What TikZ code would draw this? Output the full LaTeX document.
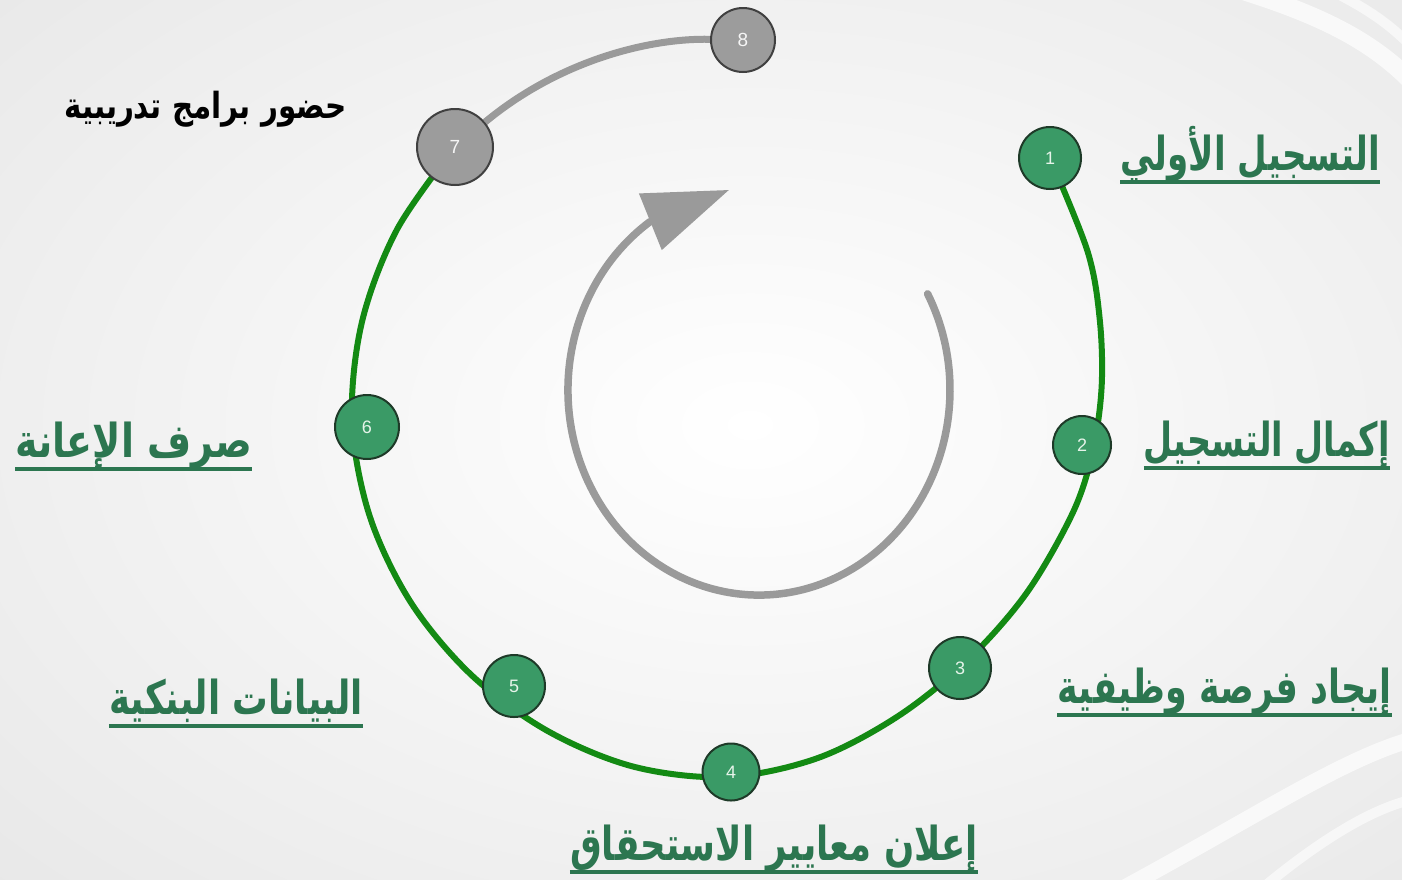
\documentclass[tikz,border=0pt]{standalone}
\usepackage{fontspec}
\setmainfont{Liberation Sans}
\newfontfamily\arabicfont[Script=Arabic]{DejaVu Sans}
\TeXXeTstate=1
\usetikzlibrary{arrows.meta,backgrounds}
\definecolor{bgc}{HTML}{E8E8E8}
\definecolor{lineg}{HTML}{138A13}
\definecolor{nodeg}{HTML}{3A9A66}
\definecolor{nodeb}{HTML}{1E3A28}
\definecolor{textg}{HTML}{2C7650}
\definecolor{grayl}{HTML}{9A9A9A}
\definecolor{grayn}{HTML}{9C9C9C}
\definecolor{numc}{HTML}{E6F4EA}
\newcommand{\arscale}[2]{\scalebox{#1}[1.17]{#2}}
\tikzset{
  gnode/.style={circle, fill=nodeg, draw=nodeb, line width=2pt, minimum size=#1, inner sep=0pt,
    text=numc, font=\fontsize{18}{18}\selectfont},
  hnode/.style={circle, fill=grayn, draw=black!75, line width=2pt, minimum size=#1, inner sep=0pt,
    text=white!92!gray, font=\fontsize{19}{19}\selectfont},
  lab/.style={inner sep=0pt, text=textg, font=\fontsize{40}{40}\selectfont\arabicfont\bfseries},
  blab/.style={inner sep=0pt, text=black, font=\fontsize{30}{30}\selectfont\arabicfont\bfseries},
  uline/.style={draw=textg, line width=3.5pt},
  greenline/.style={draw=lineg, line width=6pt},
  grayline/.style={draw=grayl, line width=7pt},
  cycarrow/.style={draw=grayl, fill=none, line width=7.5pt, line cap=round, -{Triangle[length=85pt,width=59pt]}}
}
\begin{document}
\begin{tikzpicture}[x=1pt,y=-1pt]
\useasboundingbox (0,0) rectangle (1402,879);
% step nodes
\node[gnode=62pt] (n1) at (1050,158) {1};
\node[gnode=58pt] (n2) at (1082,445) {2};
\node[gnode=62pt] (n3) at (960,668) {3};
\node[gnode=57pt] (n4) at (731,772) {4};
\node[gnode=62pt] (n5) at (514,686) {5};
\node[gnode=64pt] (n6) at (367,427) {6};
\node[hnode=76pt] (n7) at (455,147) {7};
\node[hnode=64pt] (n8) at (743,40) {8};
% labels
\node[lab, anchor=base east] (L1) at (1380,170) {\arscale{0.852}{\beginR التسجيل الأولي\endR}};
\node[lab, anchor=base east] (L2) at (1390,456) {\arscale{0.836}{\beginR إكمال التسجيل\endR}};
\node[lab, anchor=base east] (L3) at (1392,703) {\arscale{0.872}{\beginR إيجاد فرصة وظيفية\endR}};
\node[lab, anchor=base east] (L4) at (978,860) {\arscale{0.887}{\beginR إعلان معايير الاستحقاق\endR}};
\node[lab, anchor=base east] (L5) at (363,714) {\arscale{0.888}{\beginR البيانات البنكية\endR}};
\node[lab, anchor=base east] (L6) at (252,457) {\arscale{0.95}{\beginR صرف الإعانة\endR}};
\node[blab, anchor=base east] (L7) at (347,118) {\scalebox{0.98}[1.2]{\beginR حضور برامج تدريبية\endR}};
\foreach \l in {L1,L2,L3,L4,L5,L6}{
  \draw[uline] ([yshift=-12pt]\l.base west) -- ([yshift=-12pt]\l.base east);
}
\coordinate (a0) at (927.6,293.8);
\begin{scope}[on background layer]
  \shade[inner color=white, outer color=bgc] (-300,-250) rectangle (1800,1100);
  \draw[white, line width=18pt, opacity=0.7] (1240,-10) .. controls (1320,15) and (1370,40) .. (1410,80);
  \draw[white, line width=10pt, opacity=0.6] (1330,-10) .. controls (1370,10) and (1390,25) .. (1410,45);
  \draw[white, line width=16pt, opacity=0.7] (1120,890) .. controls (1250,820) and (1340,760) .. (1410,740);
  \draw[white, line width=10pt, opacity=0.6] (1260,890) .. controls (1320,840) and (1370,810) .. (1410,800);
  \draw[greenline] plot[smooth, tension=0.55] coordinates {(n1) (1087.7,251.8) (1099.8,320.1) (1101.6,387.2) (1092.6,452.0) (1072.8,512.7) (1026.6,593) (967.4,660.4) (898,716.2) (817.6,758.1) (727,777) (634.1,766.8) (547.5,730.9) (471.7,675.3) (410.9,602.5) (369.6,515.8) (352,420) (361.9,322.2) (397,229.5) (n7)};
  \draw[grayline] (n7) .. controls (560,60) and (650,38) .. (n8);
  \draw[cycarrow] (a0) arc[start angle=-28, end angle=235, x radius=191, y radius=205] -- ++(-22:86);
\end{scope}
\end{tikzpicture}
\end{document}
